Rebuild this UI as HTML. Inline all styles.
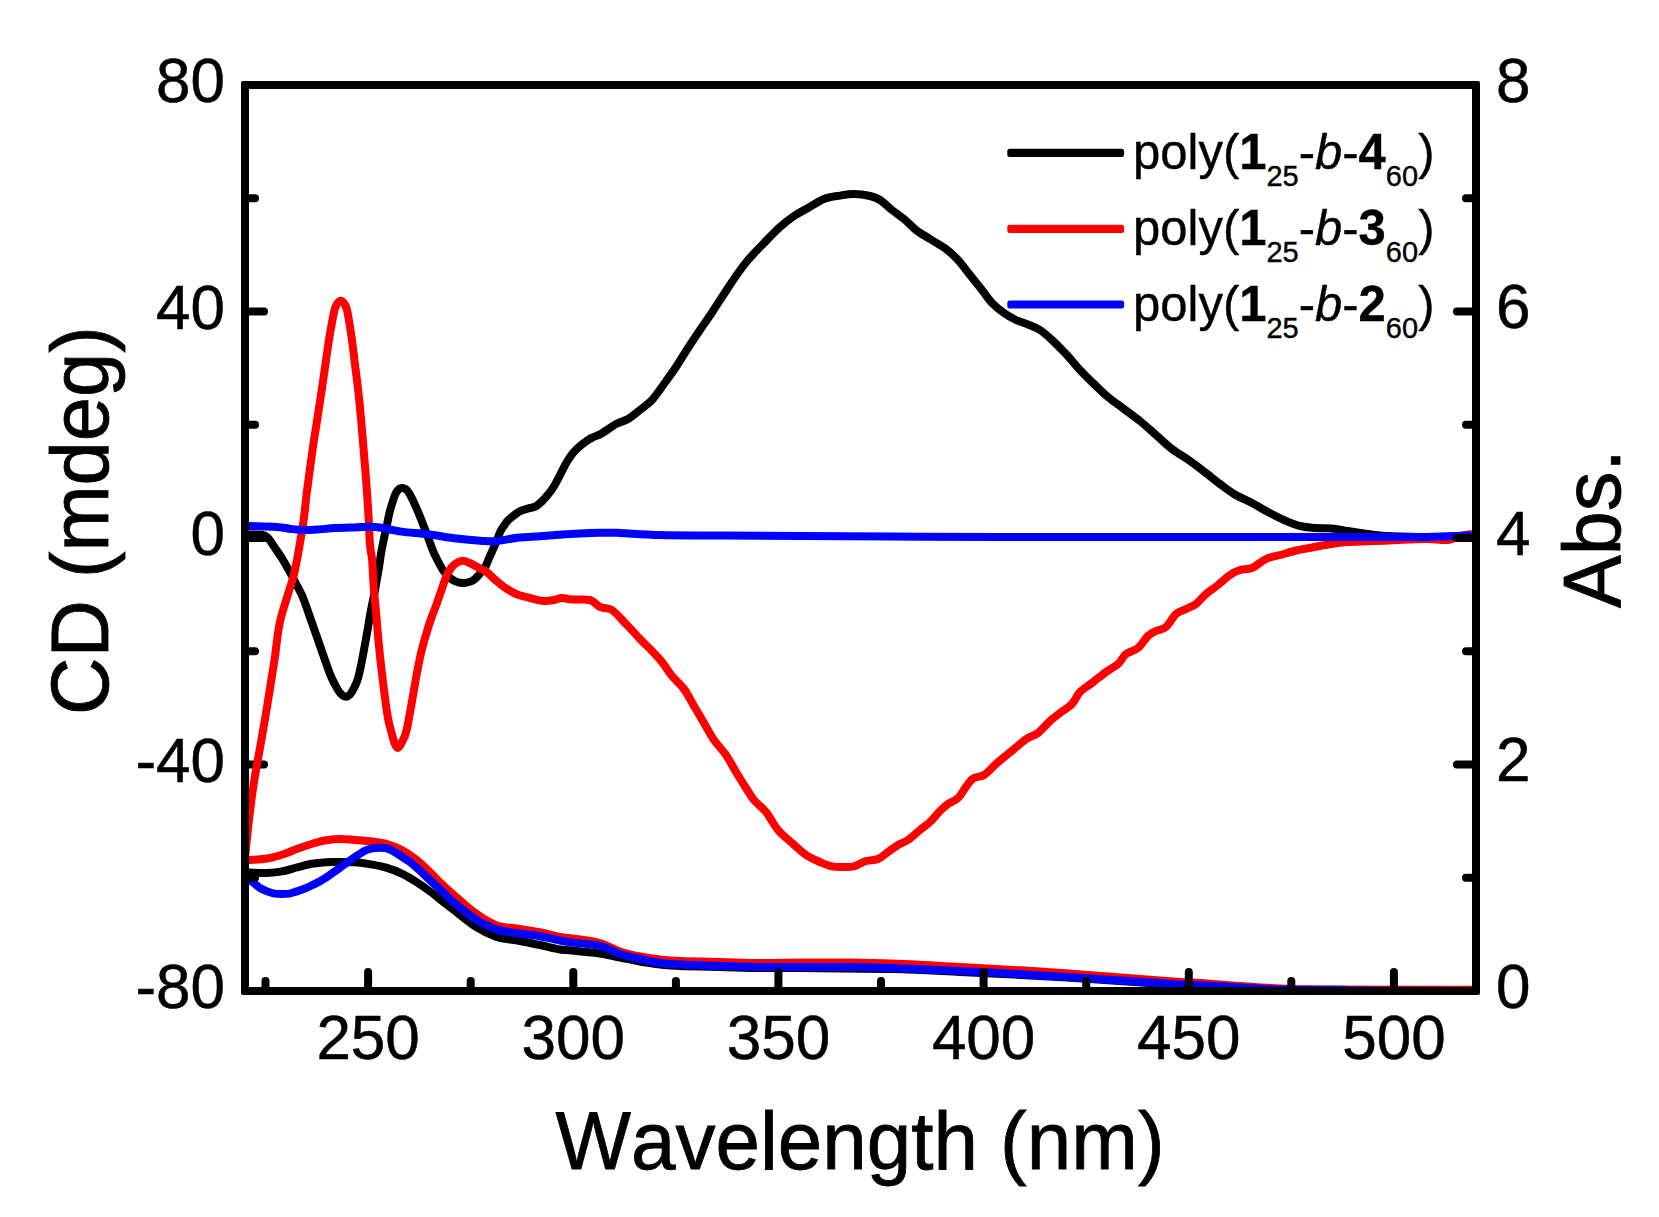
<!DOCTYPE html>
<html lang="en"><head><meta charset="utf-8"><title>CD and absorption spectra</title>
<style>html,body{margin:0;padding:0;background:#fff}body{width:1659px;height:1217px;overflow:hidden}svg{display:block}</style>
</head><body>
<svg width="1659" height="1217" viewBox="0 0 1659 1217">
<rect width="1659" height="1217" fill="#fff"/>
<g fill="none" stroke-width="8" stroke-linejoin="round" stroke-linecap="butt">
<path stroke="#000" d="M245.0,872.5C245.7,872.5 245.7,872.4 249.4,872.5C253.1,872.6 261.8,873.1 267.2,872.9C272.6,872.7 277.1,872.3 282.0,871.4C286.9,870.5 291.9,868.8 296.8,867.5C301.7,866.2 306.7,864.7 311.6,863.8C316.5,862.9 321.5,862.5 326.4,862.2C331.3,861.9 336.0,862.1 341.2,862.1C346.4,862.1 352.2,862.1 357.4,862.5C362.6,862.9 367.3,863.7 372.2,864.6C377.1,865.5 382.1,866.4 387.0,867.9C391.9,869.4 396.9,871.2 401.8,873.6C406.7,876.0 411.7,879.0 416.6,882.1C421.5,885.2 427.5,889.5 431.4,892.4C435.3,895.3 436.4,896.5 440.0,899.3C443.6,902.1 447.0,904.8 453.0,909.4C459.0,914.0 468.8,922.4 476.0,927.0C483.2,931.6 490.3,934.7 496.0,936.8C501.7,938.9 506.0,938.8 510.0,939.5C514.0,940.2 515.0,940.1 520.0,941.0C525.0,941.9 533.3,943.6 540.0,945.0C546.7,946.4 554.7,948.6 560.0,949.5C565.3,950.4 565.3,949.8 572.0,950.5C578.7,951.2 592.0,952.3 600.0,953.5C608.0,954.7 613.3,956.2 620.0,957.5C626.7,958.8 633.3,960.3 640.0,961.5C646.7,962.7 653.3,963.8 660.0,964.5C666.7,965.2 670.0,965.6 680.0,966.0C690.0,966.4 706.7,966.7 720.0,967.0C733.3,967.3 746.7,967.8 760.0,968.0C773.3,968.2 778.0,967.8 800.0,968.0C822.0,968.2 865.3,968.3 892.0,969.0C918.7,969.7 935.3,970.8 960.0,972.0C984.7,973.2 1013.3,974.5 1040.0,976.0C1066.7,977.5 1096.7,979.5 1120.0,981.0C1143.3,982.5 1160.0,983.8 1180.0,985.0C1200.0,986.2 1223.3,987.2 1240.0,988.0C1256.7,988.8 1241.3,989.5 1280.0,990.0C1318.7,990.5 1440.0,990.8 1472.0,991.0"/>
<path stroke="#f00" d="M245.0,860.3C245.7,860.3 245.7,860.4 249.4,860.1C253.1,859.8 261.8,859.4 267.2,858.5C272.6,857.6 277.1,856.4 282.0,854.8C286.9,853.2 291.9,850.8 296.8,849.0C301.7,847.2 306.7,845.5 311.6,844.0C316.5,842.5 321.5,841.1 326.4,840.3C331.3,839.4 336.4,838.9 341.2,838.9C346.0,838.9 349.8,839.6 355.0,840.0C360.2,840.4 366.9,840.8 372.2,841.5C377.5,842.2 382.1,842.7 387.0,844.1C391.9,845.5 396.9,847.4 401.8,850.0C406.7,852.6 411.7,855.9 416.6,859.8C421.5,863.7 427.5,869.7 431.4,873.5C435.3,877.3 436.4,878.9 440.0,882.4C443.6,885.9 447.0,889.0 453.0,894.2C459.0,899.4 468.8,908.5 476.0,913.6C483.2,918.8 490.3,922.8 496.0,925.2C501.7,927.6 506.0,927.2 510.0,927.8C514.0,928.4 515.0,928.2 520.0,929.0C525.0,929.8 533.3,931.0 540.0,932.3C546.7,933.6 554.7,936.0 560.0,937.0C565.3,938.0 565.3,937.5 572.0,938.5C578.7,939.5 592.0,940.8 600.0,943.0C608.0,945.2 613.3,949.2 620.0,951.5C626.7,953.8 633.3,955.2 640.0,956.5C646.7,957.8 653.3,958.8 660.0,959.5C666.7,960.2 670.0,960.6 680.0,961.0C690.0,961.4 706.7,961.7 720.0,962.0C733.3,962.3 746.7,962.9 760.0,963.0C773.3,963.1 786.7,962.6 800.0,962.5C813.3,962.4 824.7,962.3 840.0,962.5C855.3,962.7 872.0,962.8 892.0,963.5C912.0,964.2 935.3,965.7 960.0,967.0C984.7,968.3 1013.3,969.8 1040.0,971.5C1066.7,973.2 1096.7,975.8 1120.0,977.5C1143.3,979.2 1166.7,981.1 1180.0,982.0C1193.3,982.9 1190.0,982.3 1200.0,983.0C1210.0,983.7 1226.7,985.1 1240.0,986.0C1253.3,986.9 1266.7,987.9 1280.0,988.5C1293.3,989.1 1288.0,989.3 1320.0,989.5C1352.0,989.7 1446.7,989.7 1472.0,989.7"/>
<path stroke="#00f" d="M245.0,876.0C245.7,876.6 248.2,878.5 249.4,879.5C250.6,880.5 250.7,880.5 252.4,881.9C254.1,883.3 257.3,886.3 259.8,887.9C262.3,889.5 264.7,890.4 267.2,891.4C269.7,892.4 272.1,893.2 274.6,893.6C277.1,894.0 279.5,894.0 282.0,894.0C284.5,894.0 286.9,894.0 289.4,893.6C291.9,893.2 294.3,892.2 296.8,891.4C299.3,890.6 301.7,889.8 304.2,888.8C306.7,887.8 309.1,886.7 311.6,885.5C314.1,884.3 316.5,883.2 319.0,881.8C321.5,880.4 323.9,878.9 326.4,877.3C328.9,875.7 331.3,873.9 333.8,872.1C336.3,870.4 338.7,868.6 341.2,866.8C343.7,865.0 346.3,863.0 348.6,861.4C350.9,859.8 352.3,858.8 355.0,857.0C357.7,855.2 361.9,852.2 364.8,850.7C367.7,849.2 369.7,848.8 372.2,848.3C374.7,847.8 377.1,847.7 379.6,847.7C382.1,847.7 384.5,847.7 387.0,848.4C389.5,849.1 391.9,850.5 394.4,851.9C396.9,853.3 399.3,855.1 401.8,856.7C404.3,858.3 406.7,859.8 409.2,861.6C411.7,863.4 414.1,865.5 416.6,867.6C419.1,869.8 421.5,872.2 424.0,874.5C426.5,876.8 428.7,879.0 431.4,881.5C434.1,884.0 436.4,885.9 440.0,889.3C443.6,892.7 447.0,896.7 453.0,901.8C459.0,906.8 468.8,915.0 476.0,919.6C483.2,924.2 490.3,927.1 496.0,929.2C501.7,931.3 506.0,931.4 510.0,932.1C514.0,932.8 515.0,932.8 520.0,933.5C525.0,934.2 533.3,935.0 540.0,936.2C546.7,937.4 554.7,939.5 560.0,940.5C565.3,941.5 565.3,941.6 572.0,942.5C578.7,943.4 592.0,944.1 600.0,946.0C608.0,947.9 613.3,951.8 620.0,954.0C626.7,956.2 633.3,957.5 640.0,959.0C646.7,960.5 653.3,962.1 660.0,963.0C666.7,963.9 670.0,964.1 680.0,964.6C690.0,965.1 706.7,965.6 720.0,966.0C733.3,966.4 746.7,966.8 760.0,967.0C773.3,967.2 786.7,967.0 800.0,967.0C813.3,967.0 824.7,966.8 840.0,967.0C855.3,967.2 872.0,967.3 892.0,968.0C912.0,968.7 935.3,969.8 960.0,971.0C984.7,972.2 1013.3,973.8 1040.0,975.4C1066.7,977.0 1096.7,979.1 1120.0,980.6C1143.3,982.1 1164.7,983.5 1180.0,984.4C1195.3,985.3 1202.0,985.5 1212.0,986.0C1222.0,986.5 1228.7,986.9 1240.0,987.5C1251.3,988.1 1263.3,989.1 1280.0,989.5C1296.7,989.9 1326.7,989.5 1340.0,989.7C1353.3,989.9 1338.0,990.3 1360.0,990.5C1382.0,990.7 1453.3,990.9 1472.0,991.0"/>
</g>
<g stroke="#000" stroke-width="8" stroke-linecap="round" fill="none">
<line x1="245" y1="991.0" x2="264" y2="991.0"/>
<line x1="245" y1="877.8" x2="255" y2="877.8"/>
<line x1="245" y1="764.5" x2="264" y2="764.5"/>
<line x1="245" y1="651.2" x2="255" y2="651.2"/>
<line x1="245" y1="538.0" x2="264" y2="538.0"/>
<line x1="245" y1="424.8" x2="255" y2="424.8"/>
<line x1="245" y1="311.5" x2="264" y2="311.5"/>
<line x1="245" y1="198.2" x2="255" y2="198.2"/>
<line x1="245" y1="85.0" x2="264" y2="85.0"/>
<line x1="265.5" y1="991" x2="265.5" y2="981"/>
<line x1="368.1" y1="991" x2="368.1" y2="972"/>
<line x1="470.7" y1="991" x2="470.7" y2="981"/>
<line x1="573.3" y1="991" x2="573.3" y2="972"/>
<line x1="675.9" y1="991" x2="675.9" y2="981"/>
<line x1="778.4" y1="991" x2="778.4" y2="972"/>
<line x1="881.0" y1="991" x2="881.0" y2="981"/>
<line x1="983.6" y1="991" x2="983.6" y2="972"/>
<line x1="1086.2" y1="991" x2="1086.2" y2="981"/>
<line x1="1188.8" y1="991" x2="1188.8" y2="972"/>
<line x1="1291.3" y1="991" x2="1291.3" y2="981"/>
<line x1="1393.9" y1="991" x2="1393.9" y2="972"/>
</g>
<g fill="none" stroke-width="8" stroke-linejoin="round" stroke-linecap="butt">
<path stroke="#000" d="M245.0,534.6C247.8,534.6 258.2,534.2 262.0,534.8C265.8,535.4 266.2,536.3 268.0,538.0C269.8,539.7 270.7,541.7 273.0,545.1C275.3,548.5 279.2,553.9 282.0,558.3C284.8,562.7 287.1,567.0 289.5,571.4C291.9,575.8 294.2,580.2 296.5,584.6C298.8,589.0 301.0,593.0 303.0,597.7C305.0,602.4 306.0,605.7 308.4,612.6C310.8,619.5 314.5,630.1 317.6,638.9C320.7,647.7 324.4,658.6 326.8,665.2C329.2,671.8 329.9,674.2 331.8,678.3C333.7,682.4 336.3,687.2 338.0,690.0C339.7,692.8 340.7,693.9 342.0,695.0C343.3,696.1 344.6,696.8 345.9,696.7C347.2,696.6 348.6,696.0 350.0,694.5C351.4,693.0 352.7,690.7 354.0,688.0C355.3,685.3 356.8,682.5 358.0,678.3C359.2,674.1 360.1,670.0 361.5,663.0C362.9,656.0 364.9,644.8 366.5,636.0C368.1,627.2 369.6,617.3 371.0,610.0C372.4,602.7 373.6,597.4 374.6,592.3C375.6,587.1 376.1,583.5 376.9,579.1C377.7,574.7 378.5,570.4 379.2,566.0C379.9,561.6 380.4,557.3 381.1,552.9C381.9,548.5 382.8,544.2 383.7,539.7C384.6,535.2 385.8,530.2 386.8,525.7C387.8,521.2 388.4,517.0 389.5,512.6C390.6,508.2 392.3,502.7 393.4,499.4C394.5,496.1 395.1,494.6 396.0,492.9C396.9,491.2 397.9,489.8 399.0,489.0C400.1,488.2 401.4,487.9 402.6,488.0C403.8,488.1 404.9,488.5 406.0,489.3C407.1,490.1 407.8,491.2 408.9,492.9C410.0,494.6 410.9,496.1 412.5,499.4C414.1,502.7 416.5,508.2 418.4,512.6C420.2,517.0 421.9,521.3 423.6,525.7C425.3,530.1 427.0,534.5 428.6,538.9C430.2,543.3 431.6,547.6 433.5,552.0C435.4,556.4 438.4,561.9 440.1,565.2C441.9,568.5 442.4,569.6 444.0,571.7C445.6,573.8 447.8,576.3 450.0,578.0C452.2,579.7 454.6,581.2 457.0,582.0C459.4,582.8 461.9,583.1 464.4,582.9C466.9,582.7 469.9,582.0 472.0,581.0C474.1,580.0 475.4,578.5 477.0,577.0C478.6,575.5 480.0,573.7 481.5,571.7C483.0,569.7 484.8,567.5 486.1,565.2C487.4,562.9 487.7,561.1 489.2,557.7C490.7,554.3 493.2,549.0 495.1,544.6C497.0,540.2 498.8,534.7 500.4,531.4C502.0,528.1 503.2,526.9 504.6,524.9C506.0,522.9 506.4,521.8 508.9,519.6C511.4,517.4 516.1,513.4 519.4,511.5C522.7,509.6 526.0,509.2 528.6,508.4C531.2,507.6 533.0,507.8 535.2,506.7C537.4,505.6 539.6,503.6 541.8,501.5C544.0,499.4 546.3,496.6 548.3,494.2C550.3,491.8 551.8,489.6 553.6,486.8C555.4,484.0 556.9,481.0 558.9,477.3C560.9,473.6 563.2,468.2 565.4,464.4C567.6,460.5 569.8,457.0 572.0,454.2C574.2,451.4 576.4,449.3 578.6,447.3C580.8,445.3 583.0,443.7 585.2,442.1C587.4,440.5 589.2,439.2 591.7,437.9C594.2,436.6 598.0,435.4 600.0,434.4C602.0,433.4 601.3,433.7 604.0,432.0C606.7,430.3 612.0,426.2 616.0,424.0C620.0,421.8 624.0,421.3 628.0,419.0C632.0,416.7 636.0,413.2 640.0,410.0C644.0,406.8 648.0,404.3 652.0,400.0C656.0,395.7 660.0,389.5 664.0,384.0C668.0,378.5 672.0,373.0 676.0,367.0C680.0,361.0 684.0,354.2 688.0,348.0C692.0,341.8 696.0,335.9 700.0,330.0C704.0,324.1 708.0,318.5 712.0,312.5C716.0,306.5 720.0,300.1 724.0,294.0C728.0,287.9 732.0,281.7 736.0,276.0C740.0,270.3 743.3,265.5 748.0,260.0C752.7,254.5 758.7,248.5 764.0,243.0C769.3,237.5 775.0,231.5 780.0,227.0C785.0,222.5 789.3,219.2 794.0,216.0C798.7,212.8 803.0,210.8 808.0,208.0C813.0,205.2 818.7,201.1 824.0,199.0C829.3,196.9 835.0,196.4 840.0,195.6C845.0,194.8 849.0,193.9 854.0,194.0C859.0,194.1 865.7,195.0 870.0,196.0C874.3,197.0 876.3,197.7 880.0,200.0C883.7,202.3 888.0,206.8 892.0,210.0C896.0,213.2 900.0,215.7 904.0,219.0C908.0,222.3 911.7,226.7 916.0,230.0C920.3,233.3 925.0,235.8 930.0,239.0C935.0,242.2 941.3,245.5 946.0,249.0C950.7,252.5 954.0,255.7 958.0,260.0C962.0,264.3 966.0,270.0 970.0,275.0C974.0,280.0 978.3,285.3 982.0,290.0C985.7,294.7 988.3,299.2 992.0,303.0C995.7,306.8 1000.0,310.2 1004.0,313.0C1008.0,315.8 1012.0,318.1 1016.0,320.0C1020.0,321.9 1024.0,322.8 1028.0,324.5C1032.0,326.2 1036.0,327.4 1040.0,330.0C1044.0,332.6 1047.7,336.0 1052.0,340.0C1056.3,344.0 1061.3,349.0 1066.0,354.0C1070.7,359.0 1075.3,365.0 1080.0,370.0C1084.7,375.0 1089.3,379.5 1094.0,384.0C1098.7,388.5 1103.0,392.8 1108.0,397.0C1113.0,401.2 1118.7,405.0 1124.0,409.0C1129.3,413.0 1134.7,416.7 1140.0,421.0C1145.3,425.3 1150.7,430.3 1156.0,435.0C1161.3,439.7 1166.3,444.7 1172.0,449.0C1177.7,453.3 1184.3,457.0 1190.0,461.0C1195.7,465.0 1201.0,469.2 1206.0,473.0C1211.0,476.8 1215.3,480.5 1220.0,484.0C1224.7,487.5 1228.7,490.8 1234.0,494.0C1239.3,497.2 1246.3,500.0 1252.0,503.0C1257.7,506.0 1262.7,509.2 1268.0,512.0C1273.3,514.8 1278.7,517.7 1284.0,520.0C1289.3,522.3 1294.7,524.7 1300.0,526.0C1305.3,527.3 1310.7,527.6 1316.0,528.0C1321.3,528.4 1326.7,527.9 1332.0,528.4C1337.3,528.9 1342.0,530.1 1348.0,531.0C1354.0,531.9 1361.7,533.2 1368.0,534.0C1374.3,534.8 1377.3,535.5 1386.0,536.0C1394.7,536.5 1405.7,536.8 1420.0,537.0C1434.3,537.2 1463.3,537.0 1472.0,537.0"/>
<path stroke="#f00" d="M245.0,858.0C245.3,855.5 246.0,848.2 246.6,842.7C247.2,837.2 247.7,830.7 248.4,824.7C249.1,818.7 249.8,812.6 250.6,806.6C251.4,800.6 252.1,794.5 253.0,788.5C253.9,782.5 254.9,776.4 255.9,770.4C256.9,764.4 257.6,761.3 259.2,752.3C260.8,743.3 263.5,728.2 265.5,716.2C267.5,704.2 269.8,689.4 271.3,680.0C272.8,670.6 273.1,669.3 274.5,660.0C275.9,650.7 277.4,634.4 279.5,624.0C281.6,613.6 285.0,604.3 286.9,597.7C288.8,591.1 289.7,589.0 291.0,584.6C292.3,580.2 293.3,578.0 294.7,571.4C296.1,564.8 298.1,553.9 299.6,545.1C301.1,536.4 302.6,527.6 303.8,518.9C305.0,510.1 305.7,501.4 306.8,492.6C307.9,483.8 309.2,474.6 310.3,466.3C311.4,458.0 312.4,451.0 313.6,442.7C314.8,434.4 316.4,425.1 317.7,416.4C319.0,407.6 320.4,398.9 321.7,390.2C323.0,381.4 324.2,372.7 325.5,363.9C326.8,355.1 327.9,346.4 329.3,337.6C330.8,328.8 332.9,317.0 334.2,311.3C335.5,305.6 336.2,305.3 337.3,303.5C338.4,301.7 339.6,300.7 340.7,300.7C341.8,300.7 343.1,301.7 344.2,303.5C345.3,305.3 346.1,305.6 347.3,311.3C348.5,317.0 350.3,328.8 351.6,337.6C352.9,346.4 353.8,355.1 354.9,363.9C356.0,372.7 357.2,381.4 358.2,390.2C359.2,398.9 360.0,407.8 360.8,416.4C361.6,425.0 362.3,433.7 363.0,442.0C363.7,450.3 364.3,457.9 365.0,466.3C365.7,474.7 366.4,483.8 367.0,492.6C367.6,501.4 368.2,510.1 368.7,518.9C369.2,527.6 369.4,538.2 370.0,545.1C370.6,552.0 371.5,553.1 372.1,560.0C372.7,566.9 373.0,577.5 373.7,586.3C374.4,595.1 375.3,603.8 376.1,612.6C376.9,621.4 377.5,630.1 378.3,638.9C379.1,647.7 380.0,656.5 381.0,665.2C382.0,674.0 383.1,682.6 384.2,691.4C385.3,700.1 386.7,711.0 387.9,717.7C389.1,724.4 390.1,727.2 391.2,731.4C392.3,735.6 393.4,740.2 394.5,743.0C395.6,745.8 396.7,747.9 397.9,747.9C399.1,747.9 400.1,745.8 401.5,743.0C402.9,740.2 404.7,737.7 406.3,731.4C407.9,725.1 409.7,714.0 411.3,705.2C412.9,696.5 414.3,687.7 415.9,678.9C417.5,670.1 419.1,661.1 421.1,652.6C423.1,644.1 426.1,634.3 428.0,628.0C429.9,621.7 431.0,619.1 432.5,615.0C434.0,610.9 435.4,607.4 436.8,603.5C438.2,599.6 439.5,595.6 441.0,591.4C442.5,587.2 444.3,581.6 445.6,578.3C446.9,575.0 447.2,573.9 448.6,571.7C450.0,569.5 451.7,566.7 453.9,564.9C456.1,563.1 459.1,561.2 461.7,560.9C464.3,560.6 466.5,561.7 469.6,563.0C472.7,564.3 477.4,567.1 480.2,568.6C483.0,570.1 484.2,570.3 486.7,572.1C489.2,573.9 492.1,577.1 495.0,579.6C497.9,582.1 500.5,584.6 504.0,587.0C507.5,589.4 511.7,592.2 516.0,594.0C520.3,595.8 525.3,596.8 530.0,598.0C534.7,599.2 540.0,600.7 544.0,601.0C548.0,601.3 551.0,600.5 554.0,600.0C557.0,599.5 559.0,598.1 562.0,598.0C565.0,597.9 567.3,599.2 572.0,599.5C576.7,599.8 585.3,598.8 590.0,600.0C594.7,601.2 596.3,605.3 600.0,607.0C603.7,608.7 607.7,607.2 612.0,610.0C616.3,612.8 621.3,619.2 626.0,624.0C630.7,628.8 635.7,634.5 640.0,639.0C644.3,643.5 648.3,647.2 652.0,651.0C655.7,654.8 658.7,657.8 662.0,662.0C665.3,666.2 668.3,671.5 672.0,676.0C675.7,680.5 680.3,684.0 684.0,689.0C687.7,694.0 690.7,700.3 694.0,706.0C697.3,711.7 700.7,717.3 704.0,723.0C707.3,728.7 710.3,734.7 714.0,740.0C717.7,745.3 722.3,749.7 726.0,755.0C729.7,760.3 732.7,766.5 736.0,772.0C739.3,777.5 743.0,783.3 746.0,788.0C749.0,792.7 750.7,796.0 754.0,800.0C757.3,804.0 762.0,807.0 766.0,812.0C770.0,817.0 773.7,824.8 778.0,830.0C782.3,835.2 787.3,838.8 792.0,843.0C796.7,847.2 801.3,851.8 806.0,855.0C810.7,858.2 815.7,860.1 820.0,862.0C824.3,863.9 828.0,865.6 832.0,866.4C836.0,867.2 840.3,867.0 844.0,867.0C847.7,867.0 850.3,867.4 854.0,866.4C857.7,865.4 862.0,862.2 866.0,861.0C870.0,859.8 874.3,860.5 878.0,859.0C881.7,857.5 884.7,854.3 888.0,852.0C891.3,849.7 894.7,847.0 898.0,845.0C901.3,843.0 904.3,842.5 908.0,840.0C911.7,837.5 916.3,833.0 920.0,830.0C923.7,827.0 926.7,825.2 930.0,822.0C933.3,818.8 937.0,814.0 940.0,811.0C943.0,808.0 945.0,806.2 948.0,804.0C951.0,801.8 954.7,801.3 958.0,798.0C961.3,794.7 965.3,787.3 968.0,784.0C970.7,780.7 971.3,779.5 974.0,778.0C976.7,776.5 980.3,777.3 984.0,775.0C987.7,772.7 992.0,767.5 996.0,764.0C1000.0,760.5 1004.0,757.3 1008.0,754.0C1012.0,750.7 1016.7,746.7 1020.0,744.0C1023.3,741.3 1025.0,739.8 1028.0,738.0C1031.0,736.2 1034.3,735.8 1038.0,733.0C1041.7,730.2 1046.3,724.3 1050.0,721.0C1053.7,717.7 1056.3,715.8 1060.0,713.0C1063.7,710.2 1068.7,707.5 1072.0,704.0C1075.3,700.5 1076.7,695.5 1080.0,692.0C1083.3,688.5 1087.7,686.3 1092.0,683.0C1096.3,679.7 1101.7,675.2 1106.0,672.0C1110.3,668.8 1114.7,667.0 1118.0,664.0C1121.3,661.0 1122.7,656.7 1126.0,654.0C1129.3,651.3 1134.3,651.0 1138.0,648.0C1141.7,645.0 1145.0,638.8 1148.0,636.0C1151.0,633.2 1153.0,632.5 1156.0,631.0C1159.0,629.5 1162.7,629.8 1166.0,627.0C1169.3,624.2 1172.7,617.0 1176.0,614.0C1179.3,611.0 1182.7,610.7 1186.0,609.0C1189.3,607.3 1192.7,606.5 1196.0,604.0C1199.3,601.5 1202.3,597.2 1206.0,594.0C1209.7,590.8 1214.0,588.2 1218.0,585.0C1222.0,581.8 1226.3,577.5 1230.0,575.0C1233.7,572.5 1236.3,571.2 1240.0,570.0C1243.7,568.8 1247.7,569.8 1252.0,568.0C1256.3,566.2 1261.3,561.2 1266.0,559.0C1270.7,556.8 1275.0,556.4 1280.0,555.0C1285.0,553.6 1290.7,551.8 1296.0,550.5C1301.3,549.2 1306.7,548.5 1312.0,547.5C1317.3,546.5 1322.0,545.4 1328.0,544.5C1334.0,543.6 1341.3,542.5 1348.0,542.0C1354.7,541.5 1361.3,541.5 1368.0,541.3C1374.7,541.1 1381.3,540.9 1388.0,540.6C1394.7,540.3 1401.3,539.9 1408.0,539.6C1414.7,539.3 1421.3,538.9 1428.0,539.0C1434.7,539.1 1442.7,540.5 1448.0,540.0C1453.3,539.5 1456.0,537.0 1460.0,536.0C1464.0,535.0 1470.0,534.3 1472.0,534.0"/>
<path stroke="#00f" d="M245.0,526.0C245.8,526.0 244.8,525.9 250.0,526.1C255.2,526.3 269.7,526.6 276.3,527.0C282.9,527.4 285.0,528.2 289.4,528.7C293.8,529.2 298.2,529.9 302.6,530.0C307.0,530.1 310.2,529.9 315.7,529.6C321.2,529.3 328.8,528.5 335.4,528.1C342.0,527.7 349.4,527.6 355.2,527.4C361.0,527.2 365.9,526.8 370.0,526.8C374.1,526.8 374.8,526.7 380.0,527.5C385.2,528.3 393.4,530.5 401.3,531.6C409.2,532.7 418.8,533.2 427.6,534.3C436.4,535.4 445.2,537.1 453.9,538.2C462.6,539.3 473.1,540.2 480.0,540.7C486.9,541.2 488.4,541.7 495.0,541.2C501.6,540.7 511.9,538.3 519.4,537.5C526.9,536.7 533.4,536.7 540.0,536.2C546.6,535.7 548.9,535.3 558.9,534.7C568.9,534.1 589.8,533.1 600.0,532.8C610.2,532.5 610.0,532.6 620.0,533.0C630.0,533.4 643.3,534.6 660.0,535.0C676.7,535.4 696.7,535.4 720.0,535.6C743.3,535.8 771.3,535.8 800.0,536.0C828.7,536.2 858.7,536.4 892.0,536.6C925.3,536.8 948.7,536.9 1000.0,537.0C1051.3,537.1 1133.3,537.0 1200.0,537.0C1266.7,537.0 1360.0,537.1 1400.0,537.0C1440.0,536.9 1428.0,536.8 1440.0,536.5C1452.0,536.2 1466.7,535.7 1472.0,535.5"/>
</g>
<g stroke="#000" stroke-width="8" stroke-linecap="round" fill="none">
<line x1="1476" y1="991.0" x2="1457" y2="991.0"/>
<line x1="1476" y1="877.8" x2="1466" y2="877.8"/>
<line x1="1476" y1="764.5" x2="1457" y2="764.5"/>
<line x1="1476" y1="651.2" x2="1466" y2="651.2"/>
<line x1="1476" y1="538.0" x2="1457" y2="538.0"/>
<line x1="1476" y1="424.8" x2="1466" y2="424.8"/>
<line x1="1476" y1="311.5" x2="1457" y2="311.5"/>
<line x1="1476" y1="198.2" x2="1466" y2="198.2"/>
<line x1="1476" y1="85.0" x2="1457" y2="85.0"/>
</g>
<path fill="#000" fill-rule="evenodd" d="M243,81H1478Q1480,81 1480,83V993Q1480,995 1478,995H243Q241,995 241,993V83Q241,81 243,81ZM249,89V987H1472V89Z"/>
<g font-family="'Liberation Sans', Arial, sans-serif" font-size="62" fill="#000" stroke="#000" stroke-width="0.5" style="font-kerning:none">
<text transform="translate(225,1008.2) scale(1,1.03)" text-anchor="end">-80</text>
<text transform="translate(225,781.7) scale(1,1.03)" text-anchor="end">-40</text>
<text transform="translate(225,555.2) scale(1,1.03)" text-anchor="end">0</text>
<text transform="translate(225,328.7) scale(1,1.03)" text-anchor="end">40</text>
<text transform="translate(225,102.2) scale(1,1.03)" text-anchor="end">80</text>
<text transform="translate(1496,1007.7) scale(1,1.03)">0</text>
<text transform="translate(1496,781.2) scale(1,1.03)">2</text>
<text transform="translate(1496,554.7) scale(1,1.03)">4</text>
<text transform="translate(1496,328.2) scale(1,1.03)">6</text>
<text transform="translate(1496,101.7) scale(1,1.03)">8</text>
<text transform="translate(368.1,1058.8) scale(1,1.03)" text-anchor="middle">250</text>
<text transform="translate(573.3,1058.8) scale(1,1.03)" text-anchor="middle">300</text>
<text transform="translate(778.4,1058.8) scale(1,1.03)" text-anchor="middle">350</text>
<text transform="translate(983.6,1058.8) scale(1,1.03)" text-anchor="middle">400</text>
<text transform="translate(1188.8,1058.8) scale(1,1.03)" text-anchor="middle">450</text>
<text transform="translate(1393.9,1058.8) scale(1,1.03)" text-anchor="middle">500</text>
</g>
<g font-family="'Liberation Sans', Arial, sans-serif" font-size="80" fill="#000" stroke="#000" stroke-width="0.8" style="font-kerning:none">
<text transform="translate(860,1169) scale(1,1.025)" text-anchor="middle">Wavelength (nm)</text>
<text transform="translate(107.7,715) rotate(-90) scale(0.994,1.025)">CD (mdeg)</text>
<text transform="translate(1619.7,608) rotate(-90) scale(0.99,1.025)">Abs.</text>
</g>
<rect x="1007.3" y="148.8" width="116.8" height="8.2" rx="2.5" fill="#000"/>
<rect x="1007.3" y="224.8" width="116.8" height="8.2" rx="2.5" fill="#f00"/>
<rect x="1007.3" y="300.4" width="116.8" height="8.2" rx="2.5" fill="#00f"/>
<g font-family="'Liberation Sans', Arial, sans-serif" font-size="49" fill="#000" stroke="#000" stroke-width="0.4" style="font-kerning:none">
<text transform="translate(1133,168.8) scale(1,1.025)">poly(<tspan font-weight="bold">1</tspan><tspan font-size="29" dy="16.5">25</tspan><tspan dy="-16.5">-</tspan><tspan font-style="italic">b</tspan>-<tspan font-weight="bold">4</tspan><tspan font-size="29" dy="16.5">60</tspan><tspan dy="-16.5">)</tspan></text>
<text transform="translate(1133,245) scale(1,1.025)">poly(<tspan font-weight="bold">1</tspan><tspan font-size="29" dy="16.5">25</tspan><tspan dy="-16.5">-</tspan><tspan font-style="italic">b</tspan>-<tspan font-weight="bold">3</tspan><tspan font-size="29" dy="16.5">60</tspan><tspan dy="-16.5">)</tspan></text>
<text transform="translate(1133,321) scale(1,1.025)">poly(<tspan font-weight="bold">1</tspan><tspan font-size="29" dy="16.5">25</tspan><tspan dy="-16.5">-</tspan><tspan font-style="italic">b</tspan>-<tspan font-weight="bold">2</tspan><tspan font-size="29" dy="16.5">60</tspan><tspan dy="-16.5">)</tspan></text>
</g>
</svg>
</body></html>
